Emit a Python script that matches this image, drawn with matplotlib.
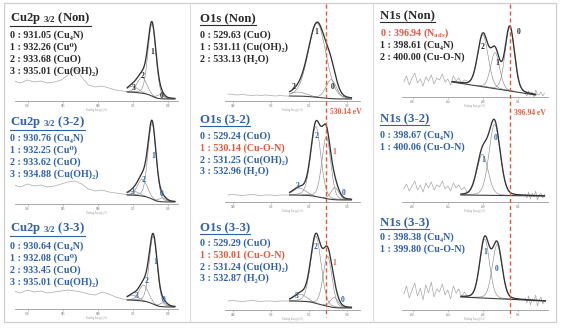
import matplotlib
matplotlib.use("Agg")
import matplotlib.pyplot as plt
import numpy as np
from matplotlib import transforms
from matplotlib.lines import Line2D
from matplotlib.patches import Rectangle

W, H, DPI = 562, 328, 100

plt.rcParams['font.family'] = ['Liberation Serif', 'DejaVu Serif']
plt.rcParams['font.weight'] = 'bold'
plt.rcParams['mathtext.fontset'] = 'custom'
plt.rcParams['mathtext.rm'] = 'Liberation Serif:bold'
plt.rcParams['mathtext.it'] = 'Liberation Serif:bold'
plt.rcParams['mathtext.bf'] = 'Liberation Serif:bold'
plt.rcParams['mathtext.default'] = 'rm'

DARK = '#2b2b2b'
BLUE = '#2f62ad'
RED = '#e8563d'

# ---------------- data (binding energy eV, intensity a.u.) ----------------
rows = ["Non", "3-2", "3-3"]

# Cu2p 3/2
cu_species = ["Cu₄N", "Cu⁰", "CuO", "Cu(OH)₂"]
cu_pos_non = [931.05, 932.26, 933.68, 935.01]
cu_pos_32 = [930.76, 932.25, 933.62, 934.88]
cu_pos_33 = [930.64, 932.08, 933.45, 935.01]
cu_h_non = [4, 72, 16, 6]
cu_h_32 = [4, 76, 17, 4]
cu_h_33 = [4, 68, 16, 5]
cu_fwhm = [1.2, 1.35, 1.6, 1.8]
cu_bg_non = (9, 2)
cu_bg_32 = (9, 2)
cu_bg_33 = (9, 2)
cu_raw_E = np.linspace(952, 935.5, 18)
cu_raw_non = [20, 18, 21, 19, 20, 18, 19, 21, 26, 34, 24, 16, 14, 15, 13, 11, 10, 9]
cu_raw_32 = [19, 17, 20, 18, 19, 17, 18, 20, 22, 23, 20, 15, 13, 14, 12, 11, 10, 9]
cu_raw_33 = [18, 16, 19, 17, 18, 16, 17, 18, 19, 18, 17, 15, 14, 17, 15, 12, 10, 9]

# O1s
o_species_non = ["CuO", "Cu(OH)₂", "H₂O"]
o_species = ["CuO", "Cu-O-N", "Cu(OH)₂", "H₂O"]
o_pos_non = [529.63, 531.11, 533.13]
o_pos_32 = [529.24, 530.14, 531.25, 532.96]
o_pos_33 = [529.29, 530.01, 531.24, 532.87]
o_h_non = [19, 74, 4]
o_h_32 = [12, 62, 70, 7]
o_h_33 = [10, 50, 67, 7]
o_fwhm_non = [1.3, 2.2, 2.0]
o_fwhm_32 = [1.0, 1.1, 1.25, 1.5]
o_fwhm_33 = [1.0, 1.1, 1.3, 1.5]
o_bg_non = (5, 2)
o_bg_32 = (7, 2)
o_bg_33 = (9, 2)
o_raw_E = np.linspace(540.5, 534.0, 14)
o_raw_non = [7, 6.5, 6, 6.5, 6, 5.5, 6, 5.5, 6, 5.5, 5, 5.5, 5, 5]
o_raw_32 = [7, 7.5, 7, 6.5, 7, 7.5, 7, 6.5, 7, 7, 6.5, 7, 7, 7]
o_raw_33 = [9, 9.5, 9, 8.5, 9, 9.5, 9, 8.5, 9, 9, 8.5, 9, 9, 9]
o_ref = 530.14

# N1s
n_species_non = ["N$_{ads}$", "Cu₄N", "Cu-O-N"]
n_species = ["Cu₄N", "Cu-O-N"]
n_pos_non = [396.94, 398.61, 400.00]
n_pos_32 = [398.67, 400.06]
n_pos_33 = [398.38, 399.80]
n_h_non = [64, 36, 52]
n_h_32 = [71, 41]
n_h_33 = [54, 59]
n_fwhm_non = [1.25, 1.2, 1.4]
n_fwhm_32 = [1.5, 1.5]
n_fwhm_33 = [1.3, 1.3]
n_bg_non = (15, 2)
n_bg_32 = (7, 6)
n_bg_33 = (13, 9)
n_rawL_E = np.linspace(409.0, 401.8, 24)
n_rawR_E = np.linspace(395.2, 393.0, 12)
n_rawL_non = [15, 21, 12, 19, 24, 14, 18, 11, 20, 16, 22, 13, 19, 17, 23, 15, 18, 12, 21, 16, 19, 14, 17, 16]
n_rawR_non = [4, 1, 6, 2, 5, 0, 7, 3, 2, 5, 1, 4]
n_rawL_32 = [13, 18, 11, 16, 21, 12, 17, 10, 19, 14, 20, 12, 17, 15, 21, 13, 16, 11, 19, 14, 17, 12, 15, 10]
n_rawR_32 = [8, 4, 10, 3, 9, 5, 11, 2, 7, 9, 4, 8]
n_rawL_33 = [16, 24, 12, 20, 27, 14, 22, 10, 25, 17, 28, 13, 21, 18, 26, 15, 20, 11, 24, 17, 21, 13, 18, 14]
n_rawR_33 = [12, 7, 14, 5, 11, 8, 15, 4, 10, 13, 6, 9]
n_ref = 396.94

# ---------------- layout (pixels) ----------------
col_x = {"Cu": (15, 178), "O": (225, 360), "N": (402, 548)}
col_lim = {"Cu": (951.8, 928.55), "O": (540.8, 526.6), "N": (409.2, 392.6)}
col_ticks = {"Cu": [950, 945, 940, 935, 930], "O": [540, 536, 532, 528], "N": [408, 404, 400, 396]}
col_fit = {"Cu": (935.8, 929.0), "O": (534.0, 527.5), "N": (401.8, 395.2)}
base_y = {"Cu": [101, 204, 309], "O": [101, 202, 310], "N": [97, 202, 310]}
text_x = {"Cu": 10, "O": 200, "N": 380}
title_y = {"Cu": [17, 121, 227], "O": [18, 119, 227], "N": [15, 118, 222]}
line_y0 = {"Cu": [35, 138, 246], "O": [35, 136, 243], "N": [33, 135, 237]}
line_dy = {"Cu": 12, "O": 11.7, "N": 11.8}
AX_H = 92
TITLE_FS, LINE_FS, NUM_FS = 9.2, 7.2, 5.5

num_xy = {
    ("Cu", 0): [(162, 96), (152, 52), (143, 76), (134, 88)],
    ("Cu", 1): [(162, 194), (153, 156), (144, 180), (133, 192)],
    ("Cu", 2): [(164, 300), (155, 262), (147, 281), (137, 296)],
    ("O", 0): [(333, 87), (316, 32), (294, 87)],
    ("O", 1): [(344, 193), (334, 152), (317, 136), (298, 186)],
    ("O", 2): [(343, 300), (334, 263), (316, 247), (297, 296)],
    ("N", 0): [(519, 32), (497, 63), (483, 47)],
    ("N", 1): [(496, 138), (483, 160)],
    ("N", 2): [(497, 269), (485, 252)],
}


def gl(E, c, h, w, m=0.15):
    u = (E - c) / w
    return h * ((1 - m) * np.exp(-4 * np.log(2) * u ** 2) + m / (1 + 4 * u ** 2))


def shirley(comps_sum, hi, lo):
    cum = np.cumsum(comps_sum[::-1])[::-1]
    return lo + (hi - lo) * cum / cum[0]


fig = plt.figure(figsize=(W / DPI, H / DPI), dpi=DPI)


def ptext(x, y, s, **kw):
    return fig.text(x / W, 1 - y / H, s, **kw)


def make_ax(col, r):
    x0, x1 = col_x[col]
    b = base_y[col][r]
    ax = fig.add_axes([x0 / W, 1 - b / H, (x1 - x0) / W, AX_H / H])
    ax.set_xlim(*col_lim[col])
    ax.set_ylim(0, AX_H)
    ax.patch.set_alpha(0)
    for s in ("top", "left", "right"):
        ax.spines[s].set_visible(False)
    ax.spines["bottom"].set_color("#9a9a9a")
    ax.spines["bottom"].set_linewidth(0.6)
    ax.set_yticks([])
    ax.set_xticks(col_ticks[col])
    ax.tick_params(axis="x", direction="out", length=1.5, width=0.4, color="#9a9a9a",
                   labelsize=2.2, labelcolor="#9a9a9a", pad=0.6)
    ax.set_xlabel("Binding Energy (eV)", fontsize=1.8, color="#9a9a9a", labelpad=0.2)
    return ax


def draw_spec(ax, col, pos, hts, fw, bg, linear=False, fit=None):
    e_hi, e_lo = fit if fit else col_fit[col]
    E = np.linspace(e_hi, e_lo, 500)
    comps = [gl(E, c, h, w) for c, h, w in zip(pos, hts, fw)]
    tot = np.sum(comps, axis=0)
    if linear:
        back = np.interp(E, [e_lo, e_hi], [bg[1], bg[0]])
    else:
        back = shirley(tot, bg[0], bg[1])
    for c in comps:
        m = c > 0.4
        ax.plot(E[m], (c + back)[m], color="#8c8c8c", lw=0.45)
    ax.plot(E, back, color="#404040", lw=0.8)
    ax.plot(E, tot + back, color="#333333", lw=0.95)


titles = {"Cu": r"Cu2p $_{3/2}$ (%s)", "O": "O1s (%s)", "N": "N1s (%s)"}
title_artists = []


def text_block(col, r, pos, species, red_idx=None, red_num=True):
    colr = DARK if r == 0 else BLUE
    t = ptext(text_x[col], title_y[col][r] + 4, titles[col] % rows[r], fontsize=TITLE_FS,
              color=colr, va="baseline", ha="left")
    title_artists.append((t, colr))
    for i, (p, s) in enumerate(zip(pos, species)):
        c = RED if i == red_idx else colr
        ptext(text_x[col], line_y0[col][r] + i * line_dy[col] + 3, "%d : %.2f (%s)" % (i, p, s),
              fontsize=LINE_FS, color=c, va="baseline", ha="left")
    for i, (x, y) in enumerate(num_xy[(col, r)]):
        c = RED if (i == red_idx and red_num) else colr
        ptext(x, y + 2, str(i), fontsize=NUM_FS, color=c, va="baseline", ha="center")


# ---- Cu2p column ----
cu_sets = [(cu_pos_non, cu_h_non, cu_bg_non, cu_raw_non),
           (cu_pos_32, cu_h_32, cu_bg_32, cu_raw_32),
           (cu_pos_33, cu_h_33, cu_bg_33, cu_raw_33)]
for r, (pos, hts, bg, raw) in enumerate(cu_sets):
    ax = make_ax("Cu", r)
    ax.plot(cu_raw_E, raw, color="#a8a8a8", lw=0.5)
    draw_spec(ax, "Cu", pos, hts, cu_fwhm, bg)
    text_block("Cu", r, pos, cu_species)

# ---- O1s column ----
o_sets = [(o_pos_non, o_h_non, o_fwhm_non, o_bg_non, o_raw_non, o_species_non, None),
          (o_pos_32, o_h_32, o_fwhm_32, o_bg_32, o_raw_32, o_species, 1),
          (o_pos_33, o_h_33, o_fwhm_33, o_bg_33, o_raw_33, o_species, 1)]
o_axes = []
for r, (pos, hts, fw, bg, raw, sp, red) in enumerate(o_sets):
    ax = make_ax("O", r)
    o_axes.append(ax)
    ax.plot(o_raw_E, raw, color="#a8a8a8", lw=0.5)
    draw_spec(ax, "O", pos, hts, fw, bg)
    text_block("O", r, pos, sp, red)

# ---- N1s column ----
n_sets = [(n_pos_non, n_h_non, n_fwhm_non, n_bg_non, n_rawL_non, n_rawR_non, n_species_non, 0, (403.5, 394.0)),
          (n_pos_32, n_h_32, n_fwhm_32, n_bg_32, n_rawL_32, n_rawR_32, n_species, None, (402.5, 393.0)),
          (n_pos_33, n_h_33, n_fwhm_33, n_bg_33, n_rawL_33, n_rawR_33, n_species, None, (402.5, 392.9))]
n_axes = []
for r, (pos, hts, fw, bg, rl, rr, sp, red, fit) in enumerate(n_sets):
    ax = make_ax("N", r)
    n_axes.append(ax)
    ax.plot(n_rawL_E, rl, color="#a8a8a8", lw=0.5)
    ax.plot(n_rawR_E, rr, color="#a8a8a8", lw=0.5)
    draw_spec(ax, "N", pos, hts, fw, bg, linear=True, fit=fit)
    text_block("N", r, pos, sp, red, red_num=False)

# ---- reference lines ----
for ax, e, ly in [(o_axes[0], o_ref, 112), (n_axes[0], n_ref, 113)]:
    tr = transforms.blended_transform_factory(ax.transData, fig.transFigure)
    fig.add_artist(Line2D([e, e], [1 - 4 / H, 1 - 317 / H], transform=tr, color=RED,
                          lw=1.0, ls=(0, (3, 2)), zorder=5))
    xpx = ax.transData.transform((e, 0))[0]
    ptext(xpx + 4, ly, "%.2f eV" % e, fontsize=5.5, color=RED, va="center", ha="left")

# ---- frame ----
fig.add_artist(Rectangle((4 / W, 1 - 322 / H), 552 / W, 319 / H, transform=fig.transFigure,
                         fill=False, ec="#cfcfcf", lw=0.9))
for xd in (190, 373):
    fig.add_artist(Line2D([xd / W, xd / W], [1 - 3 / H, 1 - 322 / H], transform=fig.transFigure,
                          color="#dcdcdc", lw=0.8))

# ---- underline titles ----
fig.canvas.draw()
rend = fig.canvas.get_renderer()
for t, colr in title_artists:
    bb = t.get_window_extent(rend)
    fig.add_artist(Line2D([bb.x0 / W, bb.x1 / W], [(bb.y0 - 0.3) / H] * 2,
                          transform=fig.transFigure, color=colr, lw=0.8))

fig.savefig("out.png", dpi=DPI)
